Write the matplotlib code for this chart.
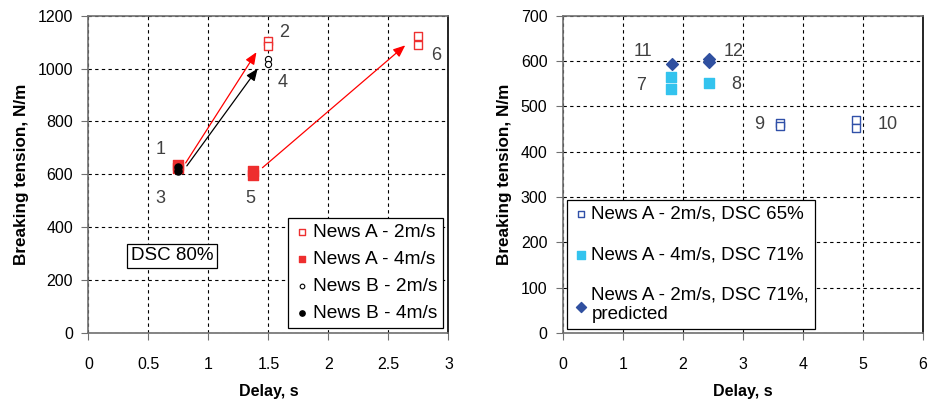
import matplotlib.pyplot as plt
import numpy as np

plt.rcParams['font.family'] = ['Liberation Sans', 'DejaVu Sans']

# DSC 80% series
a2_x = [1.5, 1.5, 2.75, 2.75]
a2_y = [1105, 1085, 1125, 1088]
a4_x = [0.75, 0.75, 1.37, 1.37]
a4_y = [635, 625, 612, 598]
b2_x = [1.5, 1.5]
b2_y = [1038, 1018]
b4_x = [0.75, 0.75]
b4_y = [628, 612]

# arrows: (x0, y0, x1, y1, colour)
arrows_l = [(0.81, 643, 1.40, 1062, 'red'),
            (0.82, 632, 1.41, 1000, 'black'),
            (1.45, 625, 2.64, 1088, 'red')]
labels_l = [('1', 0.6, 695), ('2', 1.63, 1135), ('3', 0.6, 510),
            ('4', 1.62, 946), ('5', 1.35, 510), ('6', 2.9, 1050)]

# DSC 65% / 71% series
c65_x = [3.62, 3.62, 4.88, 4.88]
c65_y = [463, 457, 470, 453]
c71_x = [1.8, 1.8, 2.43]
c71_y = [564, 538, 552]
pred_x = [1.82, 2.43, 2.43]
pred_y = [593, 598, 604]
labels_r = [('11', 1.33, 622), ('12', 2.85, 622), ('7', 1.3, 545),
            ('8', 2.9, 548), ('9', 3.27, 461), ('10', 5.42, 461)]

fig = plt.figure(figsize=(9.3, 4.04), dpi=100)
ax1 = fig.add_axes([0.0951, 0.176, 0.3871, 0.785])
ax2 = fig.add_axes([0.6051, 0.176, 0.3871, 0.785])

for ax in (ax1, ax2):
    ax.grid(True, color='black', linestyle=(0, (3, 3)), linewidth=0.8)
    ax.set_axisbelow(True)
    for s in ax.spines.values():
        s.set_color('#707070')
        s.set_linewidth(1.2)
    ax.tick_params(direction='out', length=5, color='#707070', labelsize=11.5)
    ax.tick_params(axis='x', pad=12)
    ax.tick_params(axis='y', pad=6)
    ax.set_xlabel('Delay, s', fontsize=11.5, fontweight='bold', labelpad=9)
    ax.set_ylabel('Breaking tension, N/m', fontsize=12.3, fontweight='bold', labelpad=6)
ax1.spines['right'].set_color('black')
ax2.spines['right'].set_color('black')

ax1.set_xlim(0, 3)
ax1.set_ylim(0, 1200)
ax1.set_xticks(np.arange(0, 3.01, 0.5))
ax1.set_xticklabels(['0', '0.5', '1', '1.5', '2', '2.5', '3'])
ax1.set_yticks(np.arange(0, 1201, 200))

for x0, y0, x1, y1, c in arrows_l:
    ax1.annotate('', xy=(x1, y1), xytext=(x0, y0),
                 arrowprops=dict(arrowstyle='-|>,head_length=0.6,head_width=0.25',
                                 color=c, lw=0.9, mutation_scale=12,
                                 shrinkA=0, shrinkB=0))

ax1.scatter(a2_x, a2_y, marker='s', s=36, facecolors='white', edgecolors='#ee3030',
            linewidths=1.0, label='News A - 2m/s', zorder=3)
ax1.scatter(a4_x, a4_y, marker='s', s=45, color='#ee2e2e', label='News A - 4m/s', zorder=3)
ax1.scatter(b2_x, b2_y, marker='o', s=20, facecolors='white', edgecolors='black',
            linewidths=0.8, label='News B - 2m/s', zorder=4)
ax1.scatter(b4_x, b4_y, marker='o', s=26, color='black', label='News B - 4m/s', zorder=4)

for t, x, y in labels_l:
    ax1.text(x, y, t, fontsize=13, color='#404040', ha='center', va='center')

ax1.text(0.70, 291, 'DSC 80%', fontsize=13.5, ha='center', va='center',
         bbox=dict(boxstyle='square,pad=0.2', facecolor='white', edgecolor='black', lw=0.9))

leg1 = ax1.legend(loc='lower right', bbox_to_anchor=(0.985, 0.015), fontsize=13.8,
                  frameon=True, fancybox=False, edgecolor='black', framealpha=1,
                  handletextpad=0.1, handlelength=0.9, borderpad=0.3, labelspacing=0.5,
                  borderaxespad=0, markerscale=0.75)
leg1.get_frame().set_linewidth(0.9)

ax2.set_xlim(0, 6)
ax2.set_ylim(0, 700)
ax2.set_xticks(np.arange(0, 7, 1))
ax2.set_yticks(np.arange(0, 701, 100))

ax2.scatter(c65_x, c65_y, marker='s', s=26, facecolors='white', edgecolors='#3050a8',
            linewidths=1.0, label='News A - 2m/s, DSC 65%', zorder=3)
ax2.scatter(c71_x, c71_y, marker='s', s=42, color='#33c3ee',
            label='News A - 4m/s, DSC 71%', zorder=3)
ax2.scatter(pred_x, pred_y, marker='D', s=36, color='#3050a0',
            label='News A - 2m/s, DSC 71%,\npredicted', zorder=3)

for t, x, y in labels_r:
    ax2.text(x, y, t, fontsize=13, color='#404040', ha='center', va='center')

leg2 = ax2.legend(loc='lower left', bbox_to_anchor=(0.012, 0.012), fontsize=13.5,
                  frameon=True, fancybox=False, edgecolor='black', framealpha=1,
                  handletextpad=0.1, handlelength=0.9, borderpad=0.3, labelspacing=1.25,
                  borderaxespad=0, markerscale=0.85)
leg2.get_frame().set_linewidth(0.9)

plt.savefig('out.png', dpi=100)
